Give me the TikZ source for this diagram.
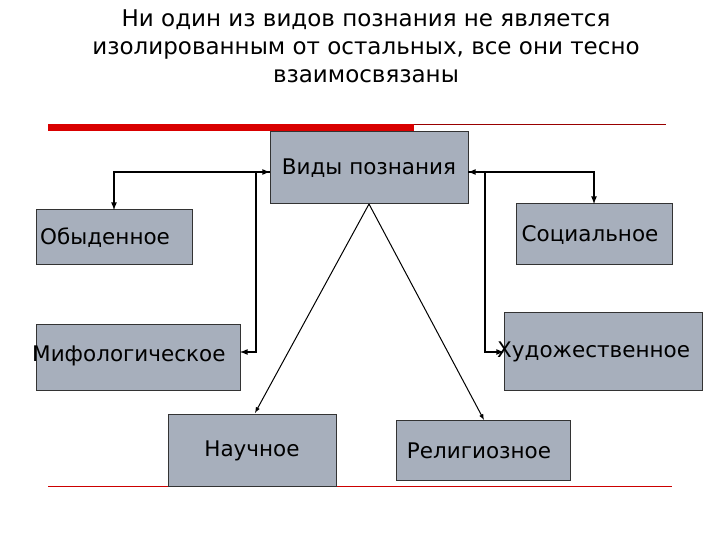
\documentclass[tikz,border=0pt]{standalone}
\usepackage{fontspec}
\setmainfont{DejaVu Sans}
\begin{document}
\begin{tikzpicture}[x=1pt,y=-1pt,
  box/.style={draw=black!80,fill=boxc,line width=1pt},
  lbl/.style={font=\fontsize{21.5}{24}\selectfont,inner sep=0},
  arr/.style={-latex,line width=1.6pt}]
\definecolor{boxc}{HTML}{A7AFBC}
\useasboundingbox (0,0) rectangle (720,540);
\node[align=center,font=\fontsize{23}{28}\selectfont] (title) at (366,46) {Ни один из видов познания не является\\изолированным от остальных, все они тесно\\взаимосвязаны};
\fill[red!85!black] (48,124) rectangle (414,131);
\draw[red!60!black,line width=0.8pt] (414,124) -- (666,124);
\draw[red!80!black,line width=0.8pt] (48,486) -- (672,486);
\draw[box] (270,132) rectangle (468,204);
\node[lbl] (v) at (369,168) {Виды познания};
\draw[box] (36,210) rectangle (192,264); \node[lbl,anchor=west] (o) at (40,238) {Обыденное};
\draw[box] (516,204) rectangle (672,264); \node[lbl] (s) at (590,235) {Социальное};
\draw[box] (36,324) rectangle (240,390); \node[lbl,anchor=west] (m) at (32,356) {Мифологическое};
\draw[box] (504,312) rectangle (702,390); \node[lbl,anchor=west] (h) at (497,352) {Художественное};
\draw[box] (168,414) rectangle (336,486); \node[lbl] (n) at (252,451) {Научное};
\draw[box] (396,420) rectangle (570,480); \node[lbl] (r) at (479,451) {Религиозное};
\coordinate (apex) at (369,204);
\coordinate (vl) at (270,172); \coordinate (vr) at (468,172);
\coordinate (ot) at (114,210); \coordinate (st) at (594,204);
\coordinate (mr) at (240,352); \coordinate (hl) at (504,352);
\coordinate (nt) at (255,413); \coordinate (rt) at (484,420);
\draw[arr] (114,172) -- (vl);
\draw[arr] (vl) -- (114,172) -- (ot);
\draw[arr] (256,172) -- (256,352) -- (mr);
\draw[arr] (594,172) -- (vr);
\draw[arr] (vr) -- (594,172) -- (st);
\draw[arr] (485,172) -- (485,352) -- (hl);
\draw[arr,line width=1pt] (apex) -- (nt);
\draw[arr,line width=1pt] (apex) -- (rt);
\end{tikzpicture}
\end{document}
